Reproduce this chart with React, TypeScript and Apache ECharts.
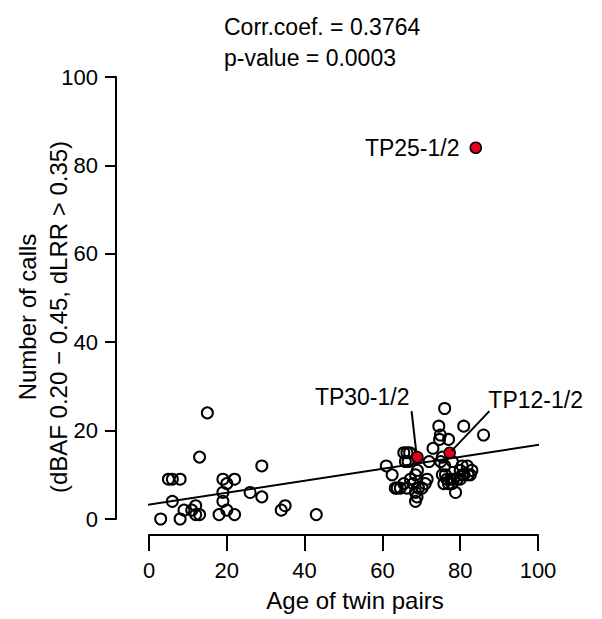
import React, { useEffect, useRef } from "react";
import * as echarts from "echarts";

// Open-circle observations (age, number of calls)
const ageOpen = [
  3, 8, 5, 6, 8, 6, 9, 11, 12, 12, 13, 13, 15, 18, 19, 20, 22, 19, 19, 20, 22, 26, 29, 29, 34, 35, 43,
  61, 62.5, 63.3, 63.8, 64.6, 65.5, 66.3, 65.5, 66.3, 67, 65.9, 66.6, 67.2, 67.9, 68.5, 68.5, 68.9, 68.5,
  69, 69.3, 70.2, 71, 71.5, 72, 73, 74.7, 74.9, 74.5, 76, 77, 75.4, 75, 76, 78, 75.4, 76.2, 76.6, 77.5,
  78.3, 75.8, 77, 78.8, 80, 80.5, 81.8, 83, 80, 81, 82, 82.6, 80.9, 86, 79.2, 80.5, 77.9,
];
const callsOpen = [
  0, 0, 9, 9, 9, 4, 2, 2, 3, 1, 1, 14, 24, 1, 9, 8, 9, 6, 4, 2, 1, 6, 12, 5, 2, 3, 1,
  12, 10, 7, 7, 7, 8, 7, 15, 15, 15, 13, 13, 9, 8, 10, 6, 5, 4,
  11, 7, 7, 8, 9, 13, 16, 18, 19, 21, 25, 18, 14, 13, 12, 13, 10, 10, 9, 9,
  9, 8, 8, 6, 11, 12, 12, 11, 9, 10, 10, 10, 21, 19, 9, 10, 8,
];

// Highlighted pairs
const hlNames = ["TP30-1/2", "TP12-1/2", "TP25-1/2"];
const hlAge = [69, 77.3, 84];
const hlCalls = [14, 15, 84];

// Label anchors (text centres) for the two pairs with leader lines
const leaderLabelNames = ["TP30-1/2", "TP12-1/2"];
const labelAge = [54.8, 99.4];
const labelCalls = [27.6, 26.9];
const leaderTP30 = [[67.5, 24.4], [68.7, 15.2]];
const leaderTP12 = [[87.5, 24.4], [77.8, 15.4]];

// Regression line end points
const regLine = [[-8.2, 2.14], [103, 17.16]];

// Axis ticks
const xTicks = [0, 20, 40, 60, 80, 100];
const yTicks = [0, 20, 40, 60, 80, 100];

const statsLines = ["Corr.coef. = 0.3764", "p-value = 0.0003"];
const xTitle = "Age of twin pairs";
const yTitle1 = "Number of calls";
const yTitle2 = "(dBAF 0.20 − 0.45, dLRR > 0.35)";

const FONT = "'Liberation Sans', Arial, Helvetica, sans-serif";

export default function App() {
  const ref = useRef<HTMLDivElement>(null);
  useEffect(() => {
    if (!ref.current) return;
    const chart = echarts.init(ref.current, undefined, { renderer: "svg" });
    const axisCommon = {
      type: "value" as const,
      min: xTicks[0],
      max: xTicks[xTicks.length - 1],
      interval: xTicks[1] - xTicks[0],
      splitLine: { show: false },
      axisLine: { show: true, onZero: false, lineStyle: { color: "#000", width: 2 } },
      axisLabel: { color: "#000", fontSize: 22, fontFamily: FONT },
    };
    const labelStyle = { color: "#000", fontSize: 23, fontFamily: FONT, opacity: 1 };
    chart.setOption({
      animation: false,
      grid: { left: 149, right: 64, top: 77, bottom: 100 },
      xAxis: {
        ...axisCommon,
        offset: 16,
        axisTick: { show: true, length: 16, lineStyle: { color: "#000", width: 2 } },
        axisLabel: { ...axisCommon.axisLabel, margin: 24 },
      },
      yAxis: {
        ...axisCommon,
        min: yTicks[0],
        max: yTicks[yTicks.length - 1],
        interval: yTicks[1] - yTicks[0],
        offset: 33,
        axisTick: { show: true, length: 11, lineStyle: { color: "#000", width: 2 } },
        axisLabel: { ...axisCommon.axisLabel, margin: 18 },
      },
      series: [
        {
          type: "line",
          data: regLine,
          showSymbol: false,
          clip: false,
          silent: true,
          lineStyle: { color: "#000", width: 2 },
        },
        {
          type: "line",
          data: leaderTP30,
          showSymbol: false,
          clip: false,
          lineStyle: { color: "#000", width: 2 },
        },
        {
          type: "line",
          data: leaderTP12,
          showSymbol: false,
          clip: false,
          lineStyle: { color: "#000", width: 2 },
        },
        {
          type: "scatter",
          data: ageOpen.map((a, i) => [a, callsOpen[i]]),
          symbol: "circle",
          symbolSize: 11,
          itemStyle: { color: "rgba(0,0,0,0)", borderColor: "#000", borderWidth: 2, opacity: 1 },
        },
        {
          type: "scatter",
          data: hlAge.map((a, i) => ({
            value: [a, hlCalls[i]],
            name: hlNames[i],
            label: i === 2 ? { show: true, position: "left", distance: 10, formatter: "{b}", ...labelStyle } : { show: false },
          })),
          symbol: "circle",
          symbolSize: 11,
          itemStyle: { color: "#e3001b", borderColor: "#000", borderWidth: 1.5, opacity: 1 },
        },
        {
          type: "scatter",
          data: labelAge.map((a, i) => ({ value: [a, labelCalls[i]], name: leaderLabelNames[i] })),
          symbolSize: 0,
          clip: false,
          itemStyle: { opacity: 1 },
          label: {
            show: true,
            position: "inside",
            formatter: "{b}",
            ...labelStyle,
          },
        },
      ],
      graphic: [
        {
          type: "text",
          left: 224,
          top: 11,
          style: { text: statsLines.join("\n"), fill: "#000", fontSize: 23, lineHeight: 31, fontFamily: FONT },
        },
        {
          type: "text",
          x: 355,
          y: 600,
          style: { text: xTitle, fill: "#000", fontSize: 24, fontFamily: FONT, align: "center", verticalAlign: "middle" },
        },
        {
          type: "text",
          x: 27,
          y: 317,
          rotation: Math.PI / 2,
          style: { text: yTitle1, fill: "#000", fontSize: 24, fontFamily: FONT, align: "center", verticalAlign: "middle" },
        },
        {
          type: "text",
          x: 58,
          y: 317,
          rotation: Math.PI / 2,
          style: { text: yTitle2, fill: "#000", fontSize: 24, fontFamily: FONT, align: "center", verticalAlign: "middle" },
        },
      ],
    });
    return () => chart.dispose();
  }, []);
  return <div ref={ref} style={{ width: 602, height: 619, position: "absolute", left: 0, top: 0 }} />;
}
